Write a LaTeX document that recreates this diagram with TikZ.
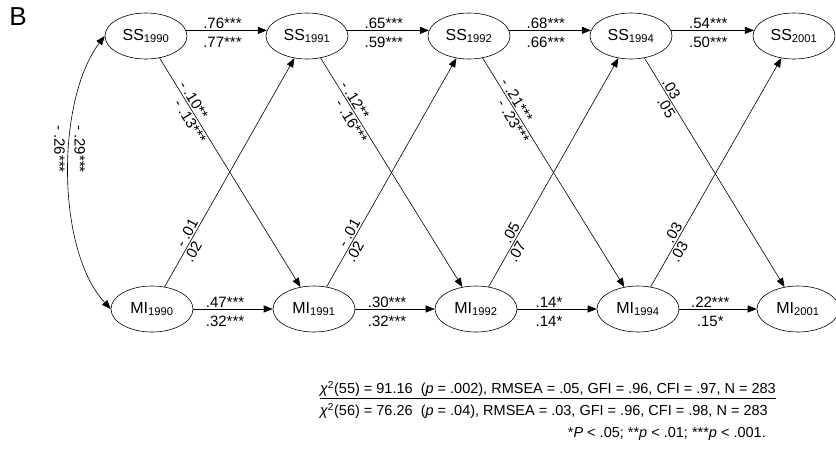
\documentclass[tikz,border=0pt]{standalone}
\usepackage{fontspec}
\setmainfont{Liberation Sans}
\usetikzlibrary{arrows.meta,shapes.geometric}

\begin{document}
\begin{tikzpicture}[x=1pt, y=-1pt, >={Triangle[length=9pt,width=7pt]},
    var/.style={draw, ellipse, line width=0.6pt, minimum width=82pt, minimum height=46pt, inner sep=0pt, font=\fontsize{16}{18}\selectfont},
    effect/.style={->, line width=0.6pt},
    coef/.style={font=\fontsize{15}{17}\selectfont, inner sep=1.5pt},
    up/.style={coef, above},
    down/.style={coef, below=5pt}]

      % Definitions
      \def\ys{36}     % y of the SS row
      \def\ym{309}    % y of the MI row
      \def\fs{\fontsize{14.5}{16}\selectfont}   % Font of the fit indices

      \useasboundingbox (0,0) rectangle (836,448);

      \node [font=\fontsize{26}{28}\selectfont, inner sep=0pt] (panel) at (18,17) {B};

      % Variables
      \node [var] (SS1990) at (146,\ys) {SS\textsubscript{1990}};
      \node [var] (SS1991) at (307,\ys) {SS\textsubscript{1991}};
      \node [var] (SS1992) at (469,\ys) {SS\textsubscript{1992}};
      \node [var] (SS1994) at (631,\ys) {SS\textsubscript{1994}};
      \node [var] (SS2001) at (794,\ys) {SS\textsubscript{2001}};

      \node [var] (MI1990) at (152,\ym) {MI\textsubscript{1990}};
      \node [var] (MI1991) at (314,\ym) {MI\textsubscript{1991}};
      \node [var] (MI1992) at (476,\ym) {MI\textsubscript{1992}};
      \node [var] (MI1994) at (638,\ym) {MI\textsubscript{1994}};
      \node [var] (MI2001) at (798,\ym) {MI\textsubscript{2001}};

      % Stability paths
      \draw [effect] (SS1990.8) -- node [up, pos=0.45] {.76***} node [down, pos=0.45] {.77***} (SS1991.172);
      \draw [effect] (SS1991.8) -- node [up, pos=0.45] {.65***} node [down, pos=0.45] {.59***} (SS1992.172);
      \draw [effect] (SS1992.8) -- node [up, pos=0.45] {.68***} node [down, pos=0.45] {.66***} (SS1994.172);
      \draw [effect] (SS1994.8) -- node [up, pos=0.45] {.54***} node [down, pos=0.45] {.50***} (SS2001.172);

      \draw [effect] (MI1990) -- node [up, pos=0.4] {.47***} node [down, pos=0.4] {.32***} (MI1991);
      \draw [effect] (MI1991) -- node [up, pos=0.4] {.30***} node [down, pos=0.4] {.32***} (MI1992);
      \draw [effect] (MI1992) -- node [up, pos=0.4] {.14*} node [down, pos=0.4] {.14*} (MI1994);
      \draw [effect] (MI1994) -- node [up, pos=0.4] {.22***} node [down, pos=0.4] {.15*} (MI2001);

      % Cross-lagged paths, SS to MI
      \draw [effect] (SS1990) -- node [coef, sloped, above, pos=0.2] {- .10**} node [coef, sloped, below, pos=0.26] {- .13***} (MI1991);
      \draw [effect] (SS1991) -- node [coef, sloped, above, pos=0.2] {- .12**} node [coef, sloped, below, pos=0.26] {- .16***} (MI1992);
      \draw [effect] (SS1992) -- node [coef, sloped, above, pos=0.2] {- .21***} node [coef, sloped, below, pos=0.26] {- .23***} (MI1994);
      \draw [effect] (SS1994) -- node [coef, sloped, above, pos=0.15] {.03} node [coef, sloped, below, pos=0.2] {.05} (MI2001);

      % Cross-lagged paths, MI to SS
      \draw [effect] (MI1990) -- node [coef, sloped, above, pos=0.22] {- .01} node [coef, sloped, below, pos=0.17] {.02} (SS1991);
      \draw [effect] (MI1991) -- node [coef, sloped, above, pos=0.22] {- .01} node [coef, sloped, below, pos=0.17] {.02} (SS1992);
      \draw [effect] (MI1992) -- node [coef, sloped, above, pos=0.22] {.05} node [coef, sloped, below, pos=0.17] {.07} (SS1994);
      \draw [effect] (MI1994) -- node [coef, sloped, above, pos=0.22] {.03} node [coef, sloped, below, pos=0.17] {.03} (SS2001);

      % Correlation at 1990
      \draw [<->, line width=0.6pt] (SS1990.west) .. controls (56,100) and (56,250) .. node [coef, rotate=-90, above=3pt, pos=0.42] {- .29***} node [coef, rotate=-90, below=3pt, pos=0.42] {- .26***} (MI1990.west);

      % Fit indices
      \node [anchor=east, font=\fs, inner sep=0pt] (fitA) at (776,390) {\underline{\textit{χ}\textsuperscript{2}(55) = 91.16\ \ (\textit{p} = .002), RMSEA = .05, GFI = .96, CFI = .97, N = 283}};
      \node [anchor=north west, font=\fs, inner sep=0pt, yshift=-4pt] (fitB) at (fitA.south west) {\textit{χ}\textsuperscript{2}(56) = 76.26\ \ (\textit{p} = .04), RMSEA = .03, GFI = .96, CFI = .98, N = 283};
      \node [anchor=east, font=\fs, inner sep=0pt] (note) at (766,434) {*\textit{P} < .05; **\textit{p} < .01; ***\textit{p} < .001.};

   \end{tikzpicture}
\end{document}
